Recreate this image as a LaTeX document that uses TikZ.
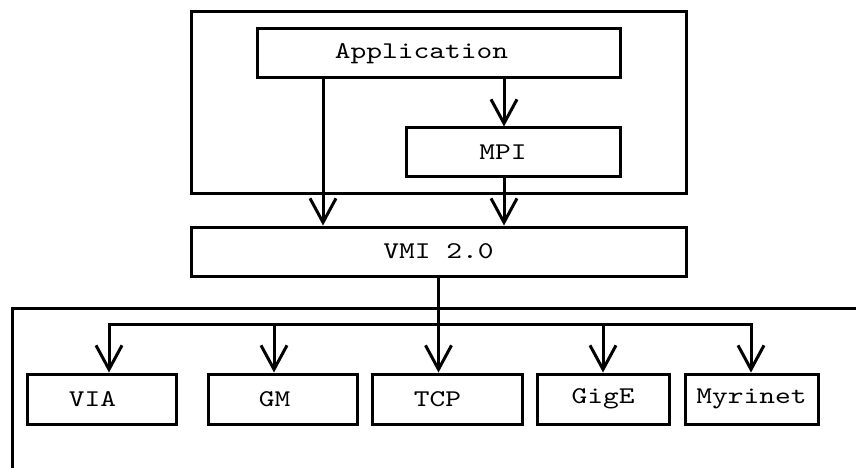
\documentclass[tikz,border=0pt]{standalone}
\usepackage{fontspec}
\newfontfamily\diagfont{lmmono10-regular.otf}[FakeStretch=1.25]
\usetikzlibrary{arrows.meta}

\begin{document}
\begin{tikzpicture}[x=1pt,y=-1pt,
  wire/.style={line width=3pt,line cap=rect},
  box/.style={draw,line width=3pt,inner sep=0pt,font=\diagfont\fontsize{24}{28}\selectfont},
  flow/.style={wire,-{Straight Barb[length=24pt,width=26pt]}}]
\useasboundingbox (0,0) rectangle (856,468);
% host side
\draw[wire] (191,12) rectangle (686,193);
\node[box,minimum width=363,minimum height=49] (app) at (438.5,53.5) {Application\hspace*{34pt}};
\node[box,minimum width=214,minimum height=48] (mpi) at (513,152) {MPI\hspace*{20pt}};
\node[box,minimum width=495,minimum height=49] (vmi) at (438.5,251.5) {VMI 2.0};
\coordinate (lft) at (323,0);
\coordinate (rgt) at (504,0);
\draw[flow] (lft |- app.south) -- (lft |- vmi.north);
\draw[flow] (rgt |- app.south) -- (rgt |- mpi.north);
\draw[flow] (rgt |- mpi.south) -- (rgt |- vmi.north);
% devices
\draw[line width=3pt] (12,468) -- (12,308) -- (856,308);
\node[box,minimum width=149,minimum height=50] (via) at (101.5,399) {VIA\hspace*{18pt}};
\node[box,minimum width=149,minimum height=50] (gm) at (282.5,399) {GM\hspace*{16pt}};
\node[box,minimum width=150,minimum height=50] (tcp) at (447,399) {TCP\hspace*{19pt}};
\node[box,minimum width=132,minimum height=50] (gige) at (603,399) {GigE};
\node[box,minimum width=133,minimum height=50] (myri) at (751.5,399) {Myrinet};
\coordinate (d1) at (109,324);
\coordinate (d2) at (274,324);
\coordinate (d4) at (603,324);
\coordinate (d5) at (751,324);
\draw[wire] (d1) -- (d5);
\foreach \d/\n in {d1/via,d2/gm,d4/gige,d5/myri}
  \draw[flow] (\d) -- (\d |- \n.north);
\draw[flow] (vmi.south) -- (vmi.south |- tcp.north);
\end{tikzpicture}
\end{document}
